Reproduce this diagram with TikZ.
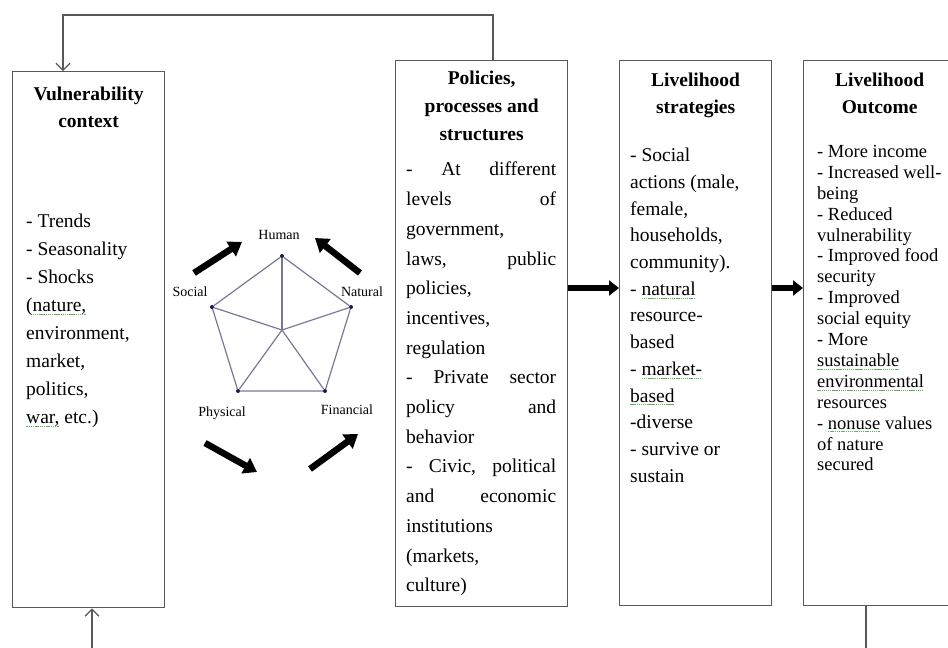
\documentclass[tikz,border=0pt]{standalone}
\usepackage{fontspec}
\setmainfont{Liberation Serif}
\usepackage{xcolor}
\usepackage{tikz}
\usetikzlibrary{positioning,arrows.meta,calc}
\definecolor{framegray}{RGB}{88,88,88}
\definecolor{pentline}{RGB}{120,120,150}
\definecolor{pentdot}{RGB}{25,25,80}
\definecolor{spellgreen}{RGB}{95,175,95}
\newsavebox\spellbox
\newcommand\spellchk[1]{\sbox\spellbox{#1}\rlap{\textcolor{spellgreen}{\lower3pt\hbox to\wd\spellbox{\xleaders\hbox{\rule{1.4pt}{0.7pt}\kern0.7pt}\hfill}}}\usebox\spellbox}
\newcommand\jline[1]{\leavevmode\hbox to 150pt{#1}}
\tikzset{
    panel/.style={rectangle, draw=framegray, line width=1.3pt, inner sep=0pt, anchor=north west},
    panel title/.style={anchor=north, align=center, inner sep=0pt, font=\fontsize{19.5}{27}\selectfont\bfseries},
    panel text/.style={anchor=north west, align=left, inner sep=0pt, font=\fontsize{19.5}{27}\selectfont},
    capital dot/.style={circle, fill=pentdot, inner sep=0pt, minimum size=4pt},
    capital label/.style={font=\fontsize{14}{16}\selectfont, inner sep=0pt},
    pent edge/.style={draw=pentline, line width=1.2pt},
    cycle arrow/.style={line width=6.5pt, -{Triangle[length=13pt,width=17pt]}, black},
    flow arrow/.style={line width=6pt, -{Triangle[length=10pt,width=15pt]}, black},
    feedback/.style={draw=framegray, line width=1.2pt}
}

\begin{document}
\begin{tikzpicture}[x=1pt, y=-1pt]
    \useasboundingbox (0,0) rectangle (948,648);

    % Boxes
    \node[panel, minimum width=152pt, minimum height=536pt] (vul) at (12,71) {};
    \node[panel, minimum width=172pt, minimum height=546pt] (pol) at (395,60) {};
    \node[panel, minimum width=152pt, minimum height=545pt] (strat) at (619,60) {};
    \node[panel, minimum width=152pt, minimum height=545pt] (outc) at (803,60) {};

    % Vulnerability context
    \node[panel title] (vultitle) at ($(vul.north)+(0,15.5)$) {Vulnerability\\context};
    \node[panel text, font=\fontsize{19.5}{28}\selectfont] (vultext) at (26,213.5) {- Trends\\
        - Seasonality\\
        - Shocks\\
        (\spellchk{nature,}\\
        environment,\\
        market,\\
        politics,\\
        \spellchk{war,} etc.)};

    % Policies, processes and structures
    \node[panel title, font=\fontsize{19.5}{28}\selectfont\bfseries] (poltitle) at ($(pol.north)+(0,11)$) {Policies,\\processes and\\structures};
    \node[panel text, text width=150pt, font=\fontsize{19.5}{29.7}\selectfont] (poltext) at (406,162) {\jline{-\hfil At\hfil different}\\
        \jline{levels\hfil of}\\
        government,\\
        \jline{laws,\hfil public}\\
        policies,\\
        incentives,\\
        regulation\\
        \jline{-\hfil Private\hfil sector}\\
        \jline{policy\hfil and}\\
        behavior\\
        \jline{-\hfil Civic,\hfil political}\\
        \jline{and\hfil economic}\\
        institutions\\
        (markets,\\
        culture)};

    % Livelihood strategies
    \node[panel title, font=\fontsize{19.5}{26.7}\selectfont\bfseries] (strattitle) at ($(strat.north)+(0,13)$) {Livelihood\\strategies};
    \node[panel text, font=\fontsize{19.5}{26.7}\selectfont] (strattext) at (630,148) {- Social\\
        actions (male,\\
        female,\\
        households,\\
        community).\\
        - \spellchk{natural}\\
        resource-\\
        based\\
        - \spellchk{market-}\\
        \spellchk{based}\\
        -diverse\\
        - survive or\\
        sustain};

    % Livelihood outcome
    \node[panel title, font=\fontsize{19.5}{26.7}\selectfont\bfseries] (outctitle) at ($(outc.north)+(0,13)$) {Livelihood\\Outcome};
    \node[panel text, font=\fontsize{18.5}{20.9}\selectfont] (outctext) at (817,145) {- More income\\
        - Increased well-\\
        being\\
        - Reduced\\
        vulnerability\\
        - Improved food\\
        security\\
        - Improved\\
        social equity\\
        - More\\
        \spellchk{sustainable}\\
        \spellchk{environmental}\\
        resources\\
        - \spellchk{nonuse} values\\
        of nature\\
        secured};

    % Livelihood assets pentagon
    \node[capital dot] (hum) at (282,256) {};
    \node[capital dot] (nat) at (351,307) {};
    \node[capital dot] (fin) at (325,391) {};
    \node[capital dot] (phy) at (238,391) {};
    \node[capital dot] (soc) at (212,307) {};
    \coordinate (hub) at (282,330);
    \draw[pent edge] (hum) -- (nat) -- (fin) -- (phy) -- (soc) -- (hum);
    \foreach \v in {hum,nat,fin,phy,soc}
        \draw[pent edge] (hub) -- (\v);

    \node[capital label] (humlab) at (279,235) {Human};
    \node[capital label] (natlab) at (362,292) {Natural};
    \node[capital label] (finlab) at (347,410) {Financial};
    \node[capital label] (phylab) at (222,413) {Physical};
    \node[capital label] (soclab) at (190,292) {Social};

    % Arrows round the pentagon
    \coordinate (a1s) at (194,273); \coordinate (a1e) at (242,242);
    \coordinate (a2s) at (360,273); \coordinate (a2e) at (315,238);
    \coordinate (a3s) at (205,443); \coordinate (a3e) at (257,472);
    \coordinate (a4s) at (310,469); \coordinate (a4e) at (358,434);
    \draw[cycle arrow] (a1s) -- (a1e);
    \draw[cycle arrow] (a2s) -- (a2e);
    \draw[cycle arrow] (a3s) -- (a3e);
    \draw[cycle arrow] (a4s) -- (a4e);

    % Flow between boxes
    \coordinate (flowrow) at (0,288);
    \draw[flow arrow] (pol.east |- flowrow) -- (strat.west |- flowrow);
    \draw[flow arrow] (strat.east |- flowrow) -- (outc.west |- flowrow);

    % Feedback lines
    \coordinate (topR) at (493,15);
    \coordinate (topL) at (63,15);
    \draw[feedback, -{Straight Barb[length=7pt,width=14pt]}] (topR |- pol.north) -- (topR) -- (topL) -- (topL |- vul.north);
    \coordinate (botL) at (92,660);
    \coordinate (botR) at (866,660);
    \draw[feedback, -{Straight Barb[length=7pt,width=14pt]}] (botL) -- (botL |- vul.south);
    \draw[feedback] (botR |- outc.south) -- (botR);
\end{tikzpicture}
\end{document}
